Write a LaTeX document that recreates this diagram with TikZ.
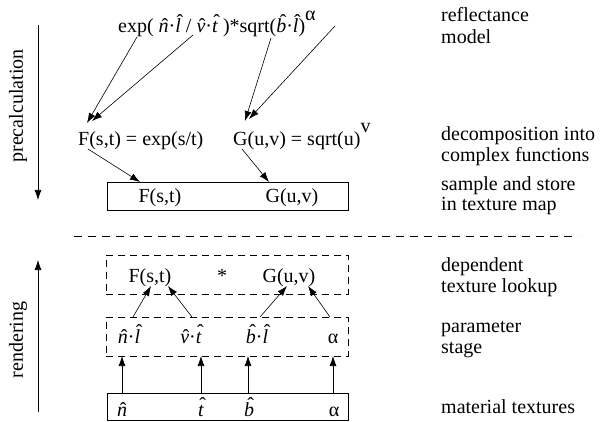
\documentclass[tikz,border=0pt]{standalone}
\usepackage{fontspec}
\setmainfont{Liberation Serif}
\usetikzlibrary{arrows.meta}
\newcommand\hx[1]{\ooalign{\textit{#1}\cr\hidewidth\kern0.12em\char"02C6\hidewidth\cr}}
\newcommand\hy[1]{\ooalign{\textit{#1}\cr\hidewidth\kern0.18em\raisebox{0.22em}{\char"02C6}\hidewidth\cr}}
\begin{document}
\begin{tikzpicture}[x=1pt,y=-1pt,
  font=\fontsize{20}{21}\selectfont,
  arr/.style={-{Latex[length=10pt,width=7pt]}, line width=0.6pt},
  lbl/.style={anchor=base west, inner sep=0pt},
  txt/.style={anchor=base, inner sep=0pt},
  solidbox/.style={draw, line width=0.6pt, anchor=north west, inner sep=0pt},
  dashbox/.style={draw, line width=0.6pt, dash pattern=on 7pt off 5pt, anchor=north west, inner sep=0pt},
  sep/.style={line width=0.8pt, dash pattern=on 8pt off 6pt}]
\useasboundingbox (0,0) rectangle (602,422);

% side arrows and labels
\coordinate (p1) at (38,25);
\coordinate (p2) at (38,200);
\coordinate (r1) at (38,412);
\coordinate (r2) at (38,260);
\draw[arr] (p1) -- (p2);
\draw[arr] (r1) -- (r2);
\node[rotate=90, inner sep=0pt] (precalc) at (18,106) {precalculation};
\node[rotate=90, inner sep=0pt] (render) at (18,340) {rendering};

% top formula
\node[lbl] (model) at (118,33) {exp( \hx{n}·\hy{l} / \hx{v}·\hy{t} )*sqrt(\hy{b}·\hy{l})\raisebox{0.6em}{α}};

% decomposition
\node[lbl] (Fdef) at (78,146) {F(s,t) = exp(s/t)};
\node[lbl] (Gdef) at (233,146) {G(u,v) = sqrt(u)\raisebox{0.65em}{v}};

\coordinate (a1s) at (137,37);  \coordinate (a1e) at (87,123);
\coordinate (a2s) at (193,35);  \coordinate (a2e) at (92,121);
\coordinate (a3s) at (271,38);  \coordinate (a3e) at (245,121);
\coordinate (a4s) at (335,26);  \coordinate (a4e) at (249,119);
\draw[arr] (a1s) -- (a1e);
\draw[arr] (a2s) -- (a2e);
\draw[arr] (a3s) -- (a3e);
\draw[arr] (a4s) -- (a4e);

% texture map box
\node[solidbox, minimum width=241pt, minimum height=28pt] (store) at (107,182) {};
\node[txt] (Fst) at (160,203) {F(s,t)};
\node[txt] (Guv) at (292,203) {G(u,v)};
\coordinate (b1s) at (88,149);  \coordinate (b1e) at (140,182);
\coordinate (b2s) at (242,149); \coordinate (b2e) at (269,182);
\draw[arr] (b1s) -- (b1e);
\draw[arr] (b2s) -- (b2e);

% separator
\coordinate (s1) at (74,236);
\coordinate (s2) at (578,236);
\draw[sep] (s1) -- (s2);

% dependent texture lookup
\node[dashbox, minimum width=242pt, minimum height=39pt] (dep) at (106,255) {};
\node[txt] (dF) at (150,282) {F(s,t)};
\node[txt] (dstar) at (222,282) {*};
\node[txt] (dG) at (289,282) {G(u,v)};

% parameter stage
\node[dashbox, minimum width=242pt, minimum height=39pt] (par) at (106,317) {};
\node[txt] (pnl) at (129,343) {\hx{n}·\hy{l}};
\node[txt] (pvt) at (191,343) {\hx{v}·\hy{t}};
\node[txt] (pbl) at (257,343) {\hy{b}·\hy{l}};
\node[txt] (pal) at (333,343) {α};

\coordinate (c1s) at (133,317); \coordinate (c1e) at (151,286);
\coordinate (c2s) at (192,317); \coordinate (c2e) at (168,286);
\coordinate (c3s) at (260,317); \coordinate (c3e) at (287,286);
\coordinate (c4s) at (330,317); \coordinate (c4e) at (308,286);
\draw[arr] (c1s) -- (c1e);
\draw[arr] (c2s) -- (c2e);
\draw[arr] (c3s) -- (c3e);
\draw[arr] (c4s) -- (c4e);

% material textures
\node[solidbox, minimum width=241pt, minimum height=27pt] (mat) at (107,393) {};
\node[txt] (mn) at (122,416) {\hx{n}};
\node[txt] (mt) at (201,416) {\hy{t}};
\node[txt] (mb) at (249,416) {\hy{b}};
\node[txt] (ma) at (334,416) {α};
\coordinate (d1s) at (122,393); \coordinate (d1e) at (122,356);
\coordinate (d2s) at (201,393); \coordinate (d2e) at (201,356);
\coordinate (d3s) at (248,393); \coordinate (d3e) at (248,356);
\coordinate (d4s) at (333,393); \coordinate (d4e) at (333,356);
\draw[arr] (d1s) -- (d1e);
\draw[arr] (d2s) -- (d2e);
\draw[arr] (d3s) -- (d3e);
\draw[arr] (d4s) -- (d4e);

% right labels
\node[lbl] (l1a) at (441,22) {reflectance};
\node[lbl] (l1b) at (441,44) {model};
\node[lbl] (l2a) at (441,141) {decomposition into};
\node[lbl] (l2b) at (441,162) {complex functions};
\node[lbl] (l3a) at (441,190) {sample and store};
\node[lbl] (l3b) at (441,211) {in texture map};
\node[lbl] (l4a) at (441,271) {dependent};
\node[lbl] (l4b) at (441,292) {texture lookup};
\node[lbl] (l5a) at (441,332) {parameter};
\node[lbl] (l5b) at (441,353) {stage};
\node[lbl] (l6a) at (441,413) {material textures};
\end{tikzpicture}
\end{document}
